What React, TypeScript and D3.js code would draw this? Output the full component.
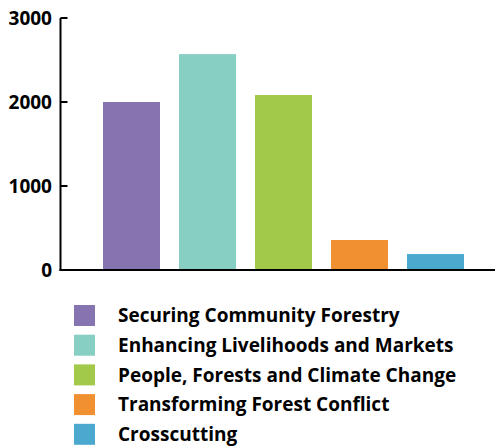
import React from "react";
import * as d3 from "d3";

const categories = [
  "Securing Community Forestry",
  "Enhancing Livelihoods and Markets",
  "People, Forests and Climate Change",
  "Transforming Forest Conflict",
  "Crosscutting",
];
const values = [2000, 2570, 2083, 357, 190];
const colors = ["#8674b1", "#87cfc3", "#a3c94a", "#f09031", "#4ba9d0"];
const yTicks = [0, 1000, 2000, 3000];

const W = 495;
const H = 446;
const FONT = "'Open Sans', 'Noto Sans', sans-serif";

export default function App() {
  const axisX = 60.5;
  const y = d3.scaleLinear().domain([0, 3000]).range([270, 18]);
  const x = d3
    .scaleBand<string>()
    .domain(categories)
    .range([65, 502])
    .paddingInner(0.25)
    .paddingOuter(0.5);

  return (
    <svg
      width={W}
      height={H}
      style={{ position: "absolute", left: 0, top: 0, background: "#fff" }}
      fontFamily={FONT}
    >
      {categories.map((c, i) => (
        <rect
          key={c}
          x={x(c)}
          y={y(values[i])}
          width={x.bandwidth()}
          height={y(0) - y(values[i])}
          fill={colors[i]}
        />
      ))}
      {/* axes */}
      <line x1={axisX} x2={axisX} y1={y(3000)} y2={y(0) + 1} stroke="#000" strokeWidth={2} />
      <line x1={axisX - 1} x2={W} y1={y(0)} y2={y(0)} stroke="#000" strokeWidth={2} />
      {yTicks.map((t) => (
        <g key={t}>
          <line x1={axisX} x2={axisX + 7} y1={y(t)} y2={y(t)} stroke="#000" strokeWidth={2} />
          <text
            x={52}
            y={y(t)}
            dy="0.36em"
            textAnchor="end"
            fontSize={19}
            fontWeight={700}
            fill="#000"
          >
            {t}
          </text>
        </g>
      ))}
      {/* legend */}
      {categories.map((c, i) => {
        const ly = 305 + i * 29.7;
        return (
          <g key={c}>
            <rect x={74} y={ly} width={21} height={21} fill={colors[i]} />
            <text
              x={118}
              y={ly + 10.5}
              dy="0.36em"
              fontSize={19}
              fontWeight={700}
              fill="#000"
            >
              {c}
            </text>
          </g>
        );
      })}
    </svg>
  );
}
